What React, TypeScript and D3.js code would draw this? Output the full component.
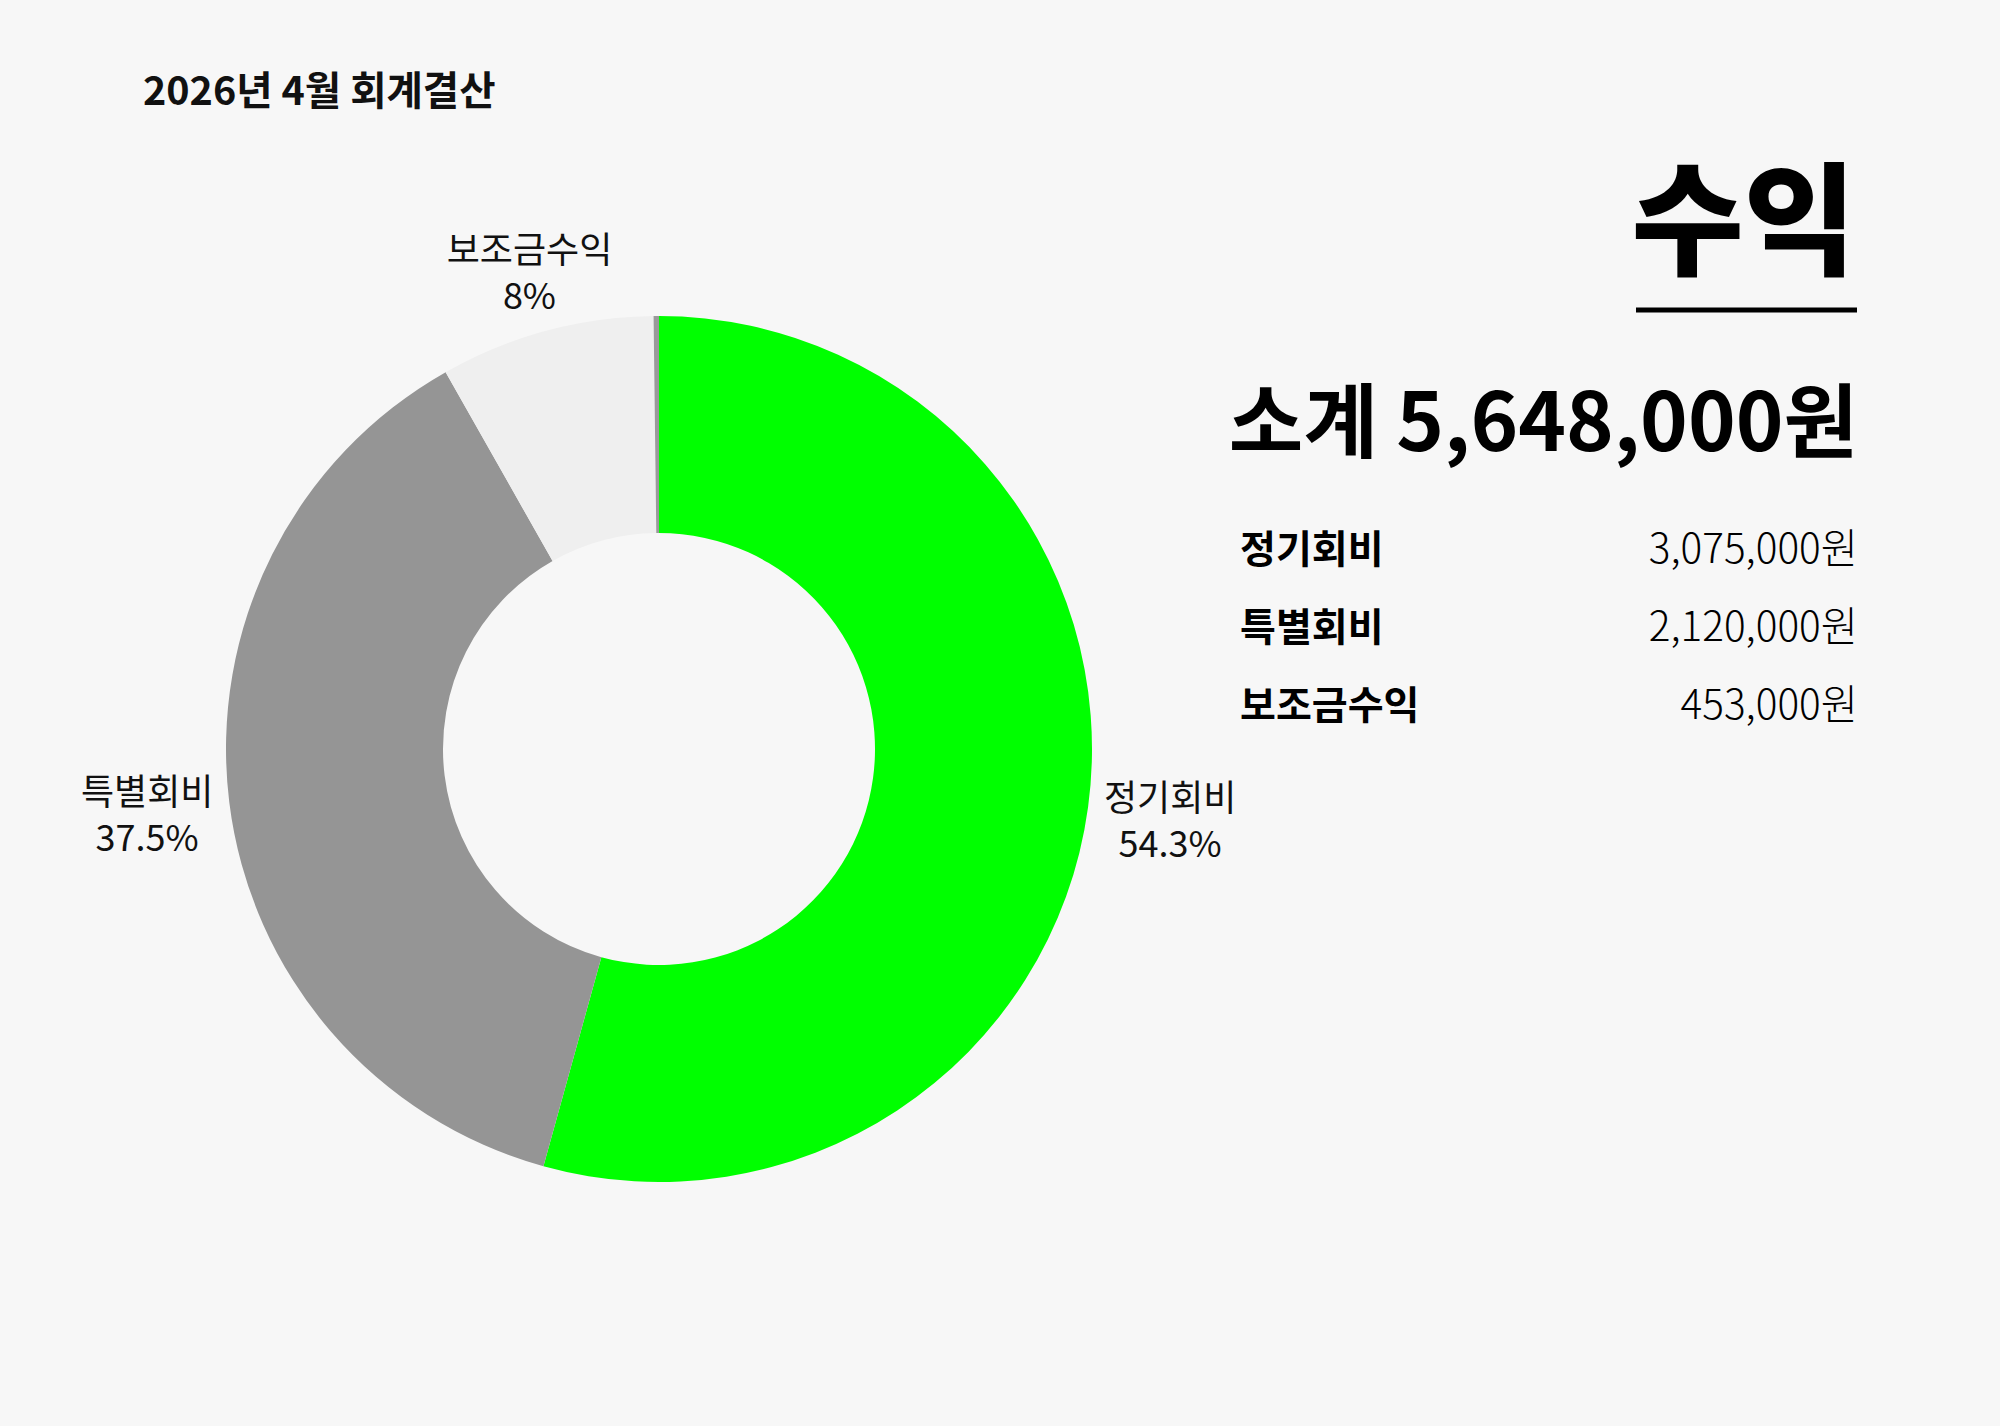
import React from "react";
import * as d3 from "d3";

const W = 2000;
const H = 1426;

const title = "2026년 4월 회계결산";
const heading = "수익";
const subtotalLabel = "소계 5,648,000원";

const sliceNames = ["정기회비", "특별회비", "보조금수익", "기타"];
const slicePcts = [54.3, 37.5, 8, 0.2];
const sliceLabels = ["54.3%", "37.5%", "8%", ""];
const sliceColors = ["#00ff00", "#959595", "#efefef", "#9a9a9a"];

const tableNames = ["정기회비", "특별회비", "보조금수익"];
const tableValues = ["3,075,000원", "2,120,000원", "453,000원"];

const FONT = "'Noto Sans CJK KR', 'Noto Sans', sans-serif";

let ctx: CanvasRenderingContext2D | null = null;
function measure(text: string, size: number, weight = 400) {
  if (!ctx) ctx = document.createElement("canvas").getContext("2d");
  if (!ctx) return text.length * size * 0.8;
  ctx.font = `${weight} ${size}px ${FONT}`;
  return ctx.measureText(text).width;
}

export default function App() {
  const cx = 659;
  const cy = 749;
  const R = 433;
  const r = 216;
  const labelFs = 36;
  const lineH = 46;
  const offset = 16;

  const data = sliceNames.map((n, i) => ({ name: n, value: slicePcts[i], label: sliceLabels[i], color: sliceColors[i] }));
  const pie = d3.pie<any>().value((d: any) => d.value).sort(null).startAngle(0).endAngle(2 * Math.PI);
  const arcs = pie(data);
  const arc = d3.arc<any>().innerRadius(r).outerRadius(R);

  const rightX = 1858;
  const rowY = d3.scalePoint<string>().domain(tableNames).range([549, 705]);

  return (
    <svg width={W} height={H} style={{ display: "block", position: "absolute", left: 0, top: 0, background: "#f7f7f7" }} fontFamily={FONT}>
      <rect x={0} y={0} width={W} height={H} fill="#f7f7f7" />
      <text x={143} y={105} fontSize={39.5} fontWeight={700} fill="#111">{title}</text>

      <g transform={`translate(${cx},${cy})`}>
        {arcs.map((a, i) => (
          <path key={i} d={arc(a) as string} fill={a.data.color} />
        ))}
        {arcs.map((a, i) => {
          if (!a.data.label) return null;
          const mid = (a.startAngle + a.endAngle) / 2;
          const vx = Math.sin(mid);
          const vy = -Math.cos(mid);
          const w = Math.max(measure(a.data.name, labelFs), measure(a.data.label, labelFs));
          const h = lineH * 2;
          const dx = Math.abs(vx) > 1e-6 ? w / 2 / Math.abs(vx) : Infinity;
          const dy = Math.abs(vy) > 1e-6 ? h / 2 / Math.abs(vy) : Infinity;
          const d = Math.min(dx, dy);
          const dist = R + offset + d;
          const x = vx * dist;
          const y = vy * dist;
          return (
            <text key={"l" + i} textAnchor="middle" fontSize={labelFs} fill="#111" dominantBaseline="central">
              <tspan x={x} y={y - lineH / 2}>{a.data.name}</tspan>
              <tspan x={x} y={y + lineH / 2}>{a.data.label}</tspan>
            </text>
          );
        })}
      </g>

      <text x={rightX - 2} y={265} textAnchor="end" fontSize={122} fontWeight={900} fill="#000">{heading}</text>
      <line x1={1636} x2={1857} y1={310} y2={310} stroke="#000" strokeWidth={5} />
      <text x={rightX} y={451} textAnchor="end" fontSize={81} fontWeight={700} fill="#000">{subtotalLabel}</text>

      {tableNames.map((n, i) => (
        <g key={n}>
          <text x={1240} y={(rowY(n) as number) + 14} fontSize={39} fontWeight={700} fill="#000">{n}</text>
          <text x={rightX} y={(rowY(n) as number) + 14} textAnchor="end" fontSize={40.5} fontWeight={300} fill="#000">{tableValues[i]}</text>
        </g>
      ))}
    </svg>
  );
}
